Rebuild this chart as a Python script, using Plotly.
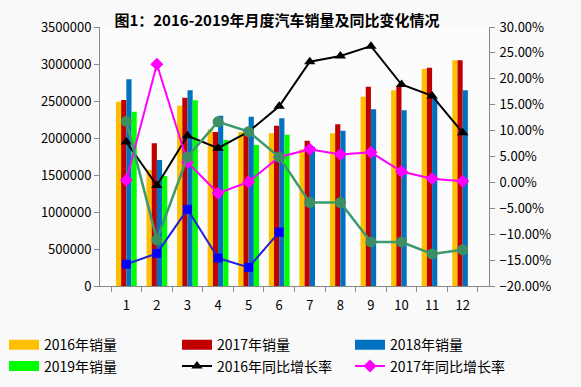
import plotly.graph_objects as go

months = ["1", "2", "3", "4", "5", "6", "7", "8", "9", "10", "11", "12"]

sales_2016 = [2490000, 1568000, 2437000, 2117000, 2081000, 2063000, 1847000, 2063000, 2558000, 2645000, 2932000, 3050000]
sales_2017 = [2514000, 1928000, 2545000, 2081000, 2041000, 2166000, 1964000, 2185000, 2693000, 2693000, 2950000, 3050000]
sales_2018 = [2793000, 1703000, 2645000, 2302000, 2288000, 2266000, 1882000, 2099000, 2388000, 2374000, 2536000, 2645000]
sales_2019 = [2355000, 1486000, 2509000, 1973000, 1905000, 2045000, None, None, None, None, None, None]

growth_2016 = [0.078, -0.006, 0.090, 0.066, 0.098, 0.147, 0.233, 0.244, 0.263, 0.189, 0.167, 0.096]
growth_2017 = [0.004, 0.228, 0.039, -0.021, 0.001, 0.049, 0.064, 0.054, 0.058, 0.021, 0.007, 0.002]
growth_2018 = [0.118, -0.111, 0.049, 0.117, 0.098, 0.049, -0.039, -0.039, -0.115, -0.115, -0.138, -0.130]
growth_2019 = [-0.158, -0.137, -0.052, -0.146, -0.164, -0.096, None, None, None, None, None, None]

bar_names = ["2016年销量", "2017年销量", "2018年销量", "2019年销量"]
bar_colors = ["#FFC000", "#C00000", "#0070C0", "#00FF00"]
bar_legends = ["legend", "legend2", "legend3", "legend"]

FONT = "Noto Sans CJK SC"
BG = "#F9F9F9"

fig = go.Figure()

for name, vals, col, lg in zip(bar_names, [sales_2016, sales_2017, sales_2018, sales_2019], bar_colors, bar_legends):
    fig.add_trace(go.Bar(x=months, y=vals, name=name, marker=dict(color=col, line=dict(width=0)),
                         showlegend=False, legendgroup=name))
    # legend swatch (wide rectangle)
    fig.add_trace(go.Scatter(x=[None], y=[None], mode="lines", name=name, legendgroup=name,
                             legend=lg, line=dict(color=col, width=11)))

fig.add_trace(go.Scatter(x=months, y=growth_2016, name="2016年同比增长率", yaxis="y2", mode="lines+markers",
                         legend="legend2",
                         line=dict(color="#000000", width=2),
                         marker=dict(symbol="triangle-up", size=10, color="#000000")))
fig.add_trace(go.Scatter(x=months, y=growth_2017, name="2017年同比增长率", yaxis="y2", mode="lines+markers",
                         legend="legend3",
                         line=dict(color="#FF00FF", width=2),
                         marker=dict(symbol="diamond", size=10, color="#FF00FF")))
fig.add_trace(go.Scatter(x=months, y=growth_2018, name="2018年同比增长率", yaxis="y2", mode="lines+markers",
                         line=dict(color="#3C9A6E", width=2.5),
                         marker=dict(symbol="circle", size=11, color="#3C8F62"), showlegend=False))
fig.add_trace(go.Scatter(x=months, y=growth_2019, name="2019年同比增长率", yaxis="y2", mode="lines+markers",
                         line=dict(color="#2222DD", width=2),
                         marker=dict(symbol="square", size=9, color="#0000FF"), showlegend=False))

leg_common = dict(orientation="v", xanchor="left", y=-0.167, yanchor="top", itemwidth=30,
                  font=dict(family=FONT, size=14), bgcolor="rgba(0,0,0,0)", tracegroupgap=0,
                  traceorder="normal")

fig.update_layout(
    width=581, height=387,
    margin=dict(l=100, r=92, t=27, b=101, autoexpand=False),
    paper_bgcolor=BG, plot_bgcolor="#FCFCFC",
    font=dict(family=FONT, size=13, color="#000000"),
    barmode="group", bargap=0.32, bargroupgap=0,
    title=dict(text="<b>图1：2016-2019年月度汽车销量及同比变化情况</b>",
               x=277/581, xref="container", xanchor="center",
               y=1 - 21/387, yref="container", yanchor="middle",
               font=dict(family=FONT, size=15, color="#000000")),
    xaxis=dict(type="category", tickson="boundaries", ticks="outside", ticklen=5,
               tickcolor="#888888", showline=True, linecolor="#888888", linewidth=1,
               showgrid=False, tickfont=dict(size=13), ticklabelstandoff=7),
    yaxis=dict(range=[0, 3500000], dtick=500000, tickformat="d", showgrid=False,
               showline=True, linecolor="#888888", linewidth=1, ticks="outside", ticklen=5,
               tickcolor="#888888", zeroline=False, tickfont=dict(size=13)),
    yaxis2=dict(range=[-0.2, 0.3], dtick=0.05, tickformat=".2%", overlaying="y", side="right",
                showgrid=False, showline=True, linecolor="#888888", linewidth=1, ticks="outside",
                ticklen=5, tickcolor="#888888", zeroline=False, tickfont=dict(size=13),
                ticklabelstandoff=2),
    legend=dict(x=(4 - 100) / 389, **leg_common),
    legend2=dict(x=(177 - 100) / 389, **leg_common),
    legend3=dict(x=(350 - 100) / 389, **leg_common),
)

fig.write_html("out.html", config={"displayModeBar": False},
               post_script="document.body.style.margin='0';document.body.style.background='%s';" % BG)
